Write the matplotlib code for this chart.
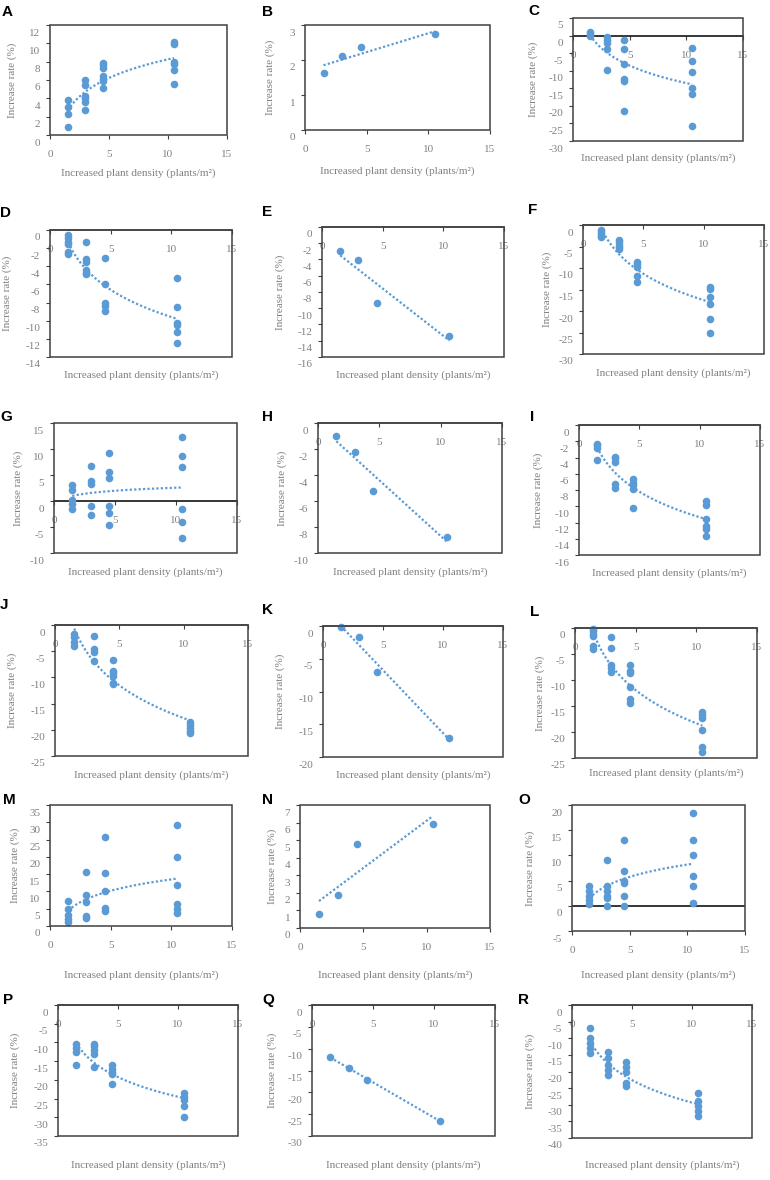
import numpy as np
import matplotlib
matplotlib.use("Agg")
import matplotlib.pyplot as plt
import matplotlib.transforms as mtransforms
from matplotlib.patches import Rectangle
from matplotlib.ticker import StrMethodFormatter

# ---------------- data (increase rate %, grouped by plant-density level) ----------------
DENSITY = [1.5, 3.0, 4.5, 10.5]
X_TICKS = [0, 5, 10, 15]
Y_LABEL = "Increase rate (%)"
X_LABEL = "Increased plant density (plants/m\u00b2)"

A_y = [[3.8, 3.1, 2.3, 0.9], [6.0, 5.5, 4.3, 4.0, 3.6, 2.7],
       [7.9, 7.6, 7.3, 6.4, 6.1, 5.9, 5.1], [10.1, 9.9, 8.0, 7.8, 7.05, 5.6]]
B_y = [[1.62], [2.12], [2.38], [2.73]]
C_y = [[1.0, 0.5, 0.0], [-0.5, -1.3, -2.0, -3.9, -9.7],
       [-1.4, -3.9, -8.0, -12.3, -13.0, -21.4], [-3.6, -7.1, -10.4, -14.8, -16.7, -25.7]]
D_y = [[-0.6, -0.9, -1.3, -1.55, -2.4, -2.6], [-1.3, -3.2, -3.5, -4.4, -4.7, -4.9],
       [-3.1, -5.9, -8.1, -8.4, -8.9], [-5.3, -8.5, -10.3, -10.5, -11.2, -12.45]]
E_y = [[-2.9], [-4.1], [-9.3], [-13.4]]
F_y = [[-1.2, -1.7, -2.2, -2.55, -2.9], [-3.5, -4.0, -4.6, -5.2, -5.6],
       [-8.5, -9.0, -9.7, -11.8, -13.3], [-14.4, -14.9, -16.8, -18.3, -21.9, -25.0]]
G_y = [[3.1, 2.2, 0.1, -0.6, -1.5], [6.7, 3.9, 3.3, -0.9, -2.7],
       [9.2, 5.6, 4.4, -1.0, -2.4, -4.7], [12.3, 8.7, 6.5, -1.5, -4.0, -7.2]]
H_y = [[-1.0], [-2.2], [-5.2], [-8.8]]
I_y = [[-2.3, -2.5, -2.8, -4.3], [-3.9, -4.1, -4.5, -7.3, -7.7],
       [-6.7, -7.1, -7.4, -7.9, -10.2], [-9.35, -9.9, -11.6, -12.4, -12.8, -13.7]]
J_y = [[-1.8, -2.2, -3.3, -4.1], [-2.1, -4.6, -5.1, -6.9],
       [-6.7, -8.8, -9.25, -9.75, -11.0, -11.35], [-18.5, -19.0, -19.6, -20.2, -20.7]]
K_y = [[-0.2], [-1.7], [-7.0], [-17.1]]
L_y = [[-0.13, -0.64, -1.15, -1.5, -3.5, -4.0], [-1.8, -3.85, -7.2, -7.7, -8.5],
       [-7.05, -8.2, -8.65, -11.4, -13.65, -14.4], [-16.15, -16.7, -17.3, -19.7, -22.9, -23.85]]
M_y = [[7.2, 4.8, 3.3, 2.0, 1.2], [15.5, 9.0, 7.0, 3.0, 2.2],
       [25.8, 15.2, 10.0, 5.2, 4.2], [29.2, 20.0, 11.8, 6.5, 5.0, 3.8]]
N_y = [[0.8], [1.9], [4.8], [5.9]]
O_y = [[4.0, 3.0, 2.0, 1.2, 0.3], [9.0, 4.0, 3.0, 2.0, 1.5, 0.0],
       [13.0, 7.0, 5.0, 4.5, 2.0, 0.0], [18.5, 13.0, 10.0, 6.0, 4.0, 0.5]]
P_y = [[-10.5, -11.5, -12.5, -16.0], [-10.5, -11.0, -12.0, -13.0, -16.5],
       [-16.0, -17.0, -18.0, -18.5, -21.0], [-23.5, -24.5, -25.5, -27.0, -30.0]]
Q_y = [[-11.8], [-14.5], [-17.2], [-26.5]]
R_y = [[-7.0, -10.0, -11.5, -13.0, -14.5], [-14.0, -16.0, -18.0, -19.5, -21.0],
       [-17.0, -18.5, -20.0, -23.5, -24.5], [-26.5, -29.0, -30.5, -32.0, -33.5]]

DATA = {"A": A_y, "B": B_y, "C": C_y, "D": D_y, "E": E_y, "F": F_y, "G": G_y, "H": H_y,
        "I": I_y, "J": J_y, "K": K_y, "L": L_y, "M": M_y, "N": N_y, "O": O_y, "P": P_y,
        "Q": Q_y, "R": R_y}
TREND = {"A": "log", "B": "lin", "C": "log", "D": "log", "E": "lin", "F": "log", "G": "log",
         "H": "lin", "I": "log", "J": "log", "K": "lin", "L": "log", "M": "log", "N": "lin",
         "O": "log", "P": "log", "Q": "lin", "R": "log"}
Y_RANGE = {"A": (0, 12, 2), "B": (0, 3, 1), "C": (-30, 5, 5), "D": (-14, 0, 2), "E": (-16, 0, 2),
           "F": (-30, 0, 5), "G": (-10, 15, 5), "H": (-10, 0, 2), "I": (-16, 0, 2),
           "J": (-25, 0, 5), "K": (-20, 0, 5), "L": (-25, 0, 5), "M": (0, 35, 5), "N": (0, 7, 1),
           "O": (-5, 20, 5), "P": (-35, 0, 5), "Q": (-30, 0, 5), "R": (-40, 0, 5)}

# ---------------- layout (pixels) ----------------
# box = (left, top, right, bottom); letter = (x, y); ylx = ylabel x; xly = xlabel y
LAYOUT = {
    "A": dict(box=(50, 25, 227, 135), letter=(2, 12), ylx=12, xly=173, mode="bottom"),
    "B": dict(box=(305, 25, 490, 130), letter=(262, 12), ylx=270, xly=171, mode="bottom"),
    "C": dict(box=(573, 18, 743, 141), letter=(528, 11), ylx=533, xly=158, mode="zero"),
    "D": dict(box=(50, 230, 232, 357), letter=(0, 213), ylx=7, xly=375, mode="zero"),
    "E": dict(box=(322, 227, 504, 357), letter=(262, 212), ylx=280, xly=375, mode="zero"),
    "F": dict(box=(583, 225, 764, 354), letter=(528, 210), ylx=547, xly=373, mode="zero"),
    "G": dict(box=(54, 423, 237, 553), letter=(0, 417), ylx=18, xly=572, mode="zero"),
    "H": dict(box=(318, 423, 502, 553), letter=(262, 417), ylx=282, xly=572, mode="zero"),
    "I": dict(box=(579, 425, 760, 555), letter=(530, 417), ylx=538, xly=573, mode="zero"),
    "J": dict(box=(55, 625, 248, 756), letter=(0, 605), ylx=12, xly=775, mode="zero"),
    "K": dict(box=(323, 626, 503, 757), letter=(262, 610), ylx=280, xly=775, mode="zero"),
    "L": dict(box=(575, 628, 757, 758), letter=(530, 612), ylx=540, xly=773, mode="zero"),
    "M": dict(box=(50, 805, 232, 926), letter=(3, 800), ylx=15, xly=975, mode="bottom"),
    "N": dict(box=(300, 805, 490, 928), letter=(262, 800), ylx=272, xly=975, mode="bottom"),
    "O": dict(box=(572, 805, 745, 931), letter=(518, 800), ylx=530, xly=975, mode="zeroline"),
    "P": dict(box=(58, 1005, 238, 1136), letter=(3, 1000), ylx=15, xly=1165, mode="zero"),
    "Q": dict(box=(312, 1005, 495, 1136), letter=(262, 1000), ylx=272, xly=1165, mode="zero"),
    "R": dict(box=(572, 1005, 752, 1138), letter=(518, 1000), ylx=530, xly=1165, mode="zero"),
}

W, H, DPI = 770, 1180, 100
BLUE = "#5B9BD5"
BOX = "#404040"
TXT = "#808080"

plt.rcParams["font.family"] = ["Liberation Serif", "DejaVu Serif"]
plt.rcParams["axes.unicode_minus"] = False

fig = plt.figure(figsize=(W / DPI, H / DPI), dpi=DPI)
fig.patch.set_facecolor("white")
ylab_shift = mtransforms.ScaledTranslation(0, -0.07, fig.dpi_scale_trans)

for key, lay in LAYOUT.items():
    groups = DATA[key]
    L, T, R, B = lay["box"]
    ax = fig.add_axes([L / W, 1 - B / H, (R - L) / W, (B - T) / H])
    ax.set_facecolor("none")

    xs = np.concatenate([[xv] * len(g) for xv, g in zip(DENSITY, groups)])
    ys = np.concatenate([np.asarray(g, dtype=float) for g in groups])
    ax.scatter(xs, ys, s=30, color=BLUE, linewidths=0, zorder=3, clip_on=False)

    xx = np.linspace(min(DENSITY), max(DENSITY), 200)
    if TREND[key] == "log":
        c = np.polyfit(np.log(xs), ys, 1)
        yy = c[0] * np.log(xx) + c[1]
    else:
        c = np.polyfit(xs, ys, 1)
        yy = np.polyval(c, xx)
    ax.plot(xx, yy, linestyle=(0, (1, 1)), color=BLUE, lw=1.6, zorder=2)

    lo, hi, step = Y_RANGE[key]
    ax.set_xlim(0, 15)
    ax.set_ylim(lo, hi)
    ax.set_xticks(X_TICKS)
    ax.set_yticks(np.arange(lo, hi + step / 2, step))
    ax.yaxis.set_major_formatter(StrMethodFormatter("{x:.0f}"))

    for sp in ax.spines.values():
        sp.set_visible(False)
    ax.add_patch(Rectangle((0, 0), 1, 1, transform=ax.transAxes, fill=False,
                           ec=BOX, lw=1.1, clip_on=False, zorder=4))
    mode = lay["mode"]
    if mode == "zero":
        sp = ax.spines["bottom"]
        sp.set_visible(True)
        sp.set_position(("data", 0))
        sp.set_color("black" if lo < 0 < hi else BOX)
        sp.set_linewidth(1.1)
    elif mode == "zeroline":
        ax.axhline(0, color="black", lw=1.1, zorder=1)

    ax.tick_params(axis="both", direction="out", length=3, width=0.8, color=BOX,
                   labelcolor=TXT, labelsize=8)
    ax.tick_params(axis="x", pad=8)
    ax.tick_params(axis="y", pad=4)
    for lab in ax.get_yticklabels():
        lab.set_transform(lab.get_transform() + ylab_shift)

    ax.set_xlabel(X_LABEL, fontsize=8, color=TXT)
    ax.xaxis.set_label_coords(0.5, (B - lay["xly"]) / (B - T))
    ax.xaxis.label.set_va("center")
    ax.set_ylabel(Y_LABEL, fontsize=8, color=TXT)
    ax.yaxis.set_label_coords((lay["ylx"] - L) / (R - L), 0.5)
    ax.yaxis.label.set_va("center")

    lx, ly = lay["letter"]
    fig.text(lx / W, 1 - ly / H, key, fontsize=11, fontweight="bold",
             family=["Liberation Sans", "DejaVu Sans"], ha="left", va="center", color="black")

fig.savefig("out.png", dpi=DPI, facecolor="white")
